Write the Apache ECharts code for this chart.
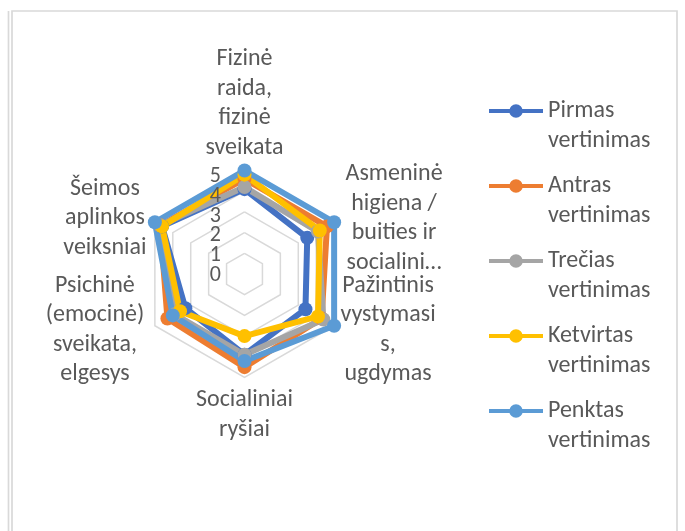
<!DOCTYPE html>
<html>
<head>
<meta charset="utf-8">
<script src="https://cdn.jsdelivr.net/npm/echarts@6/dist/echarts.min.js"></script>
<style>
  html, body { margin: 0; padding: 0; background: #ffffff; }
  #chart { width: 685px; height: 531px; }
</style>
</head>
<body>
<div id="chart"></div>
<script>
// ašių pavadinimai, ECharts radaro tvarka (prieš laikrodžio rodyklę nuo viršaus)
const categories = [
  'Fizinė\nraida,\nfizinė\nsveikata',
  'Šeimos\naplinkos\nveiksniai',
  'Psichinė\n(emocinė)\nsveikata,\nelgesys',
  'Socialiniai\nryšiai',
  'Pažintinis\nvystymasi\ns,\nugdymas',
  'Asmeninė\nhigiena /\nbuities ir\nsocialini…'
];
const seriesNames = ['Pirmas vertinimas', 'Antras vertinimas', 'Trečias vertinimas', 'Ketvirtas vertinimas', 'Penktas vertinimas'];
const pirmas    = [4.1, 4.6, 3.3, 3.9, 3.4, 3.5];
const antras    = [4.6, 4.7, 4.3, 4.5, 4.3, 4.6];
const trecias   = [4.2, 4.7, 3.9, 3.9, 4.4, 4.1];
const ketvirtas = [4.8, 4.6, 3.6, 3.0, 4.1, 4.2];
const penktas   = [5.0, 5.0, 4.0, 4.2, 5.0, 5.0];
const scaleTicks = ['0', '1', '2', '3', '4', '5'];

const colors = ['#4472C4', '#ED7D31', '#A5A5A5', '#FFC000', '#5B9BD5'];
const values = [pirmas, antras, trecias, ketvirtas, penktas];
const textColor = '#595959';
const font = 'Calibri, Carlito, "Liberation Sans", Arial, sans-serif';

// legendos ženklas: linija su apskritimu viduryje
const legendIcon = 'path://M0,5H52V9H0Z M32.5,7A6.5,6.5,0,1,1,19.5,7A6.5,6.5,0,1,1,32.5,7Z';

// kiekvieno pavadinimo bloko plotis (tekstas centruojamas jame)
const nameWidths = [100, 86, 106, 112, 94, 106];
const rich = {};
nameWidths.forEach((w, i) => {
  rich['n' + i] = { width: w, align: 'center', fontSize: 24, lineHeight: 29.5, color: textColor, fontFamily: font };
});

const myChart = echarts.init(document.getElementById('chart'));

const option = {
  animation: false,
  color: colors,
  graphic: [
    { type: 'line', shape: { x1: 8.5, y1: 11, x2: 8.5, y2: 531 }, style: { stroke: '#d9d9d9', lineWidth: 1.7 } },
    { type: 'rect', shape: { x: 12, y: 11, width: 665, height: 530 }, style: { fill: 'none', stroke: '#d9d9d9', lineWidth: 1.7 } }
  ],
  legend: {
    orient: 'vertical',
    left: 489,
    top: 66,
    padding: 0,
    itemWidth: 54,
    itemHeight: 14,
    itemGap: -15,
    data: seriesNames.map(n => ({ name: n, icon: legendIcon })),
    // tuščia pirma eilutė, kad ženklas būtų ties pirmu žodžiu
    formatter: (name) => ' \n' + name.replace(' ', '\n'),
    textStyle: {
      color: textColor,
      fontSize: 24,
      lineHeight: 30,
      fontFamily: font
    }
  },
  radar: {
    center: [244.5, 274],
    radius: 103.5,
    startAngle: 90,
    splitNumber: 5,
    shape: 'polygon',
    nameGap: 8,
    indicator: categories.map(c => ({ name: c, min: 0, max: 5 })),
    axisName: {
      formatter: (name) => {
        const i = categories.indexOf(name);
        return '{n' + i + '|' + name + '}';
      },
      rich: rich
    },
    splitLine: { lineStyle: { color: '#d9d9d9', width: 1.5 } },
    splitArea: { show: false },
    axisLine: { show: false },
    axisTick: { show: false },
    axisLabel: { show: false }
  },
  // skalės žymės 0–5 prie viršutinės ašies
  grid: { left: 223, top: 176.5, width: 1, height: 99 },
  xAxis: { type: 'value', show: false },
  yAxis: {
    type: 'category',
    boundaryGap: false,
    data: scaleTicks,
    z: 10,
    axisLine: { show: false },
    axisTick: { show: false },
    splitLine: { show: false },
    axisLabel: {
      interval: 0,
      color: textColor, fontSize: 22, fontFamily: font, margin: 2,
      hideOverlap: false
    }
  },
  series: seriesNames.map((name, i) => ({
    name: name,
    type: 'radar',
    symbol: 'circle',
    symbolSize: 14,
    lineStyle: { width: 6, color: colors[i] },
    itemStyle: { color: colors[i] },
    emphasis: { disabled: true },
    data: [{ value: values[i], name: name }]
  }))
};

myChart.setOption(option);
</script>
</body>
</html>
